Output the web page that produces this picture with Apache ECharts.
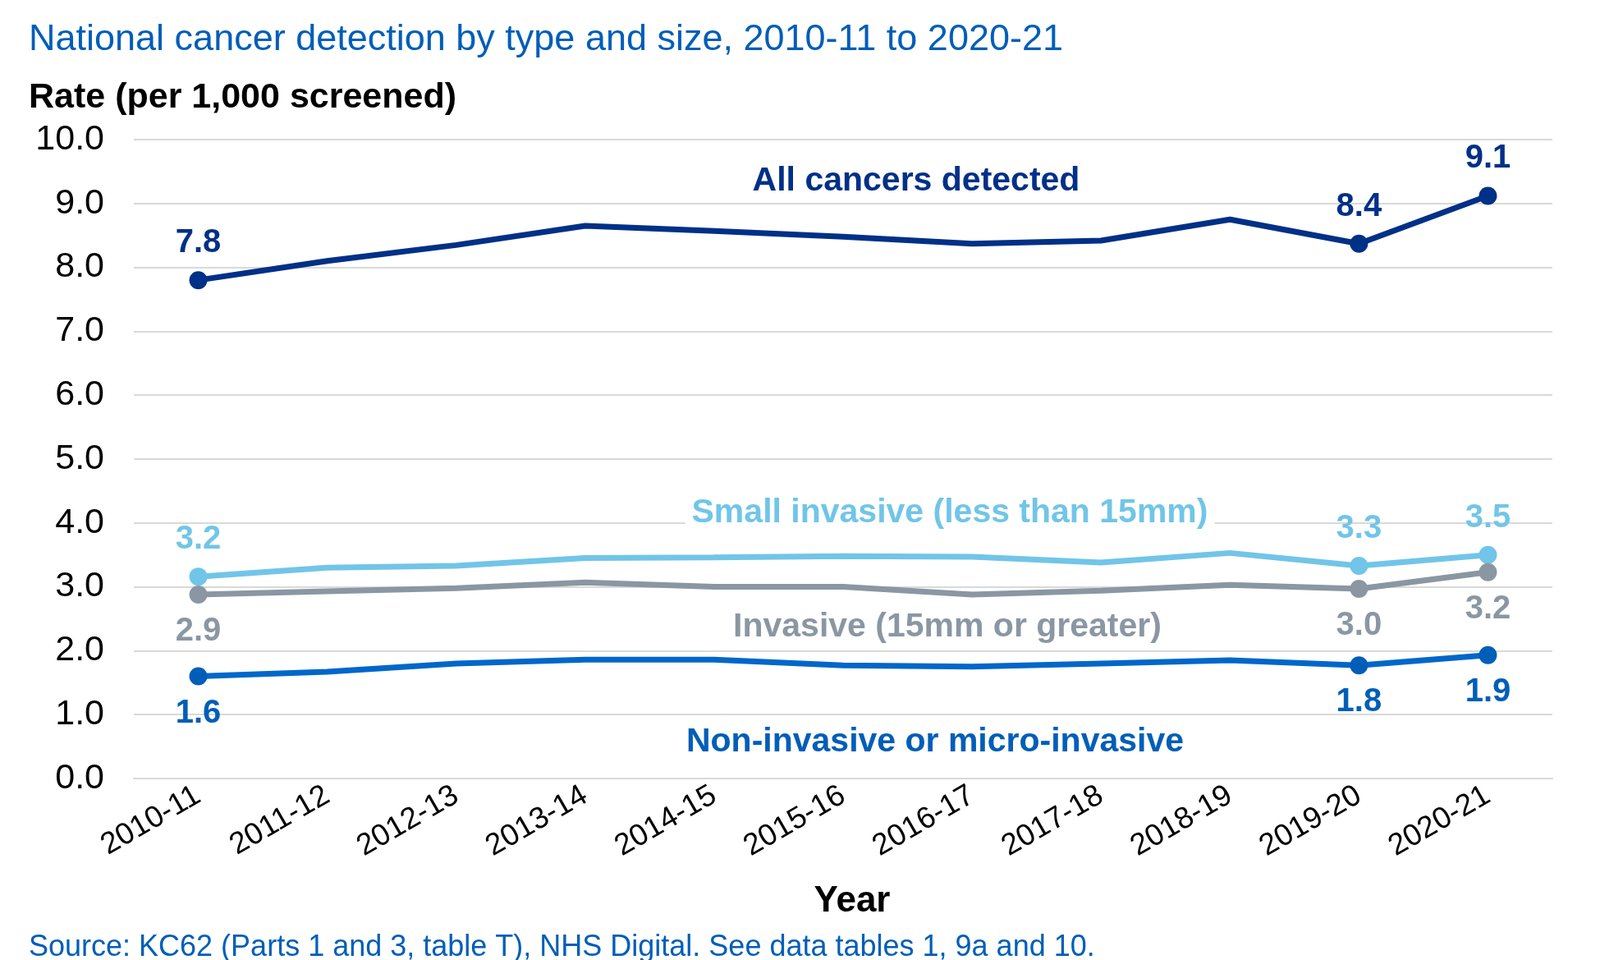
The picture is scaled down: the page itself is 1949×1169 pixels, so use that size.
<!DOCTYPE html>
<html><head><meta charset="utf-8">
<script src="https://cdn.jsdelivr.net/npm/echarts@6/dist/echarts.min.js"></script>
<style>html,body{margin:0;background:#fff}#c{width:1949px;height:1169px}</style>
</head><body><div id="c"></div>
<script>
const categories = ['2010-11','2011-12','2012-13','2013-14','2014-15','2015-16','2016-17','2017-18','2018-19','2019-20','2020-21'];
const allCancers = [7.8,8.1,8.35,8.65,8.57,8.48,8.37,8.42,8.75,8.37,9.12];
const smallInvasive = [3.16,3.3,3.33,3.45,3.46,3.48,3.47,3.38,3.53,3.33,3.5];
const invasive = [2.88,2.93,2.98,3.07,3.0,3.0,2.88,2.94,3.03,2.97,3.23];
const nonInvasive = [1.6,1.67,1.8,1.86,1.86,1.77,1.75,1.8,1.85,1.77,1.93];
const yTicks = ['0.0','1.0','2.0','3.0','4.0','5.0','6.0','7.0','8.0','9.0','10.0'];
const marked = [0,9,10];
const F = 'Liberation Sans, Arial, sans-serif';

function mk(name, vals, color, pos){
  return {
    name, type:'line', lineStyle:{width:7,color}, itemStyle:{color},
    symbol:'circle', symbolSize:(v,p)=>marked.includes(p.dataIndex)?22:0,
    data: vals.map((v,i)=>marked.includes(i)?{value:v,label:{show:true}}:v),
    label:{show:false,position:pos,distance:14,color,fontFamily:F,fontSize:40,fontWeight:'bold',
      formatter:p=>p.value.toFixed(1)},
    z: 3
  };
}
const chart = echarts.init(document.getElementById('c'));
chart.setOption({
  animation:false,
  grid:{left:163,right:58,top:170,bottom:221},
  xAxis:{type:'category',data:categories,boundaryGap:true,
    axisLine:{lineStyle:{color:'#d9d9d9',width:2}},axisTick:{show:false},
    axisLabel:{rotate:30,color:'#000',fontFamily:F,fontSize:37,margin:18,interval:0}},
  yAxis:{type:'value',min:0,max:10,interval:1,
    axisLabel:{color:'#000',fontFamily:F,fontSize:43,formatter:v=>yTicks[Math.round(v)],margin:36},
    splitLine:{lineStyle:{color:'#d9d9d9',width:2}},axisLine:{show:false}},
  series:[
    mk('All',allCancers,'#003087','top'),
    mk('Small',smallInvasive,'#71C5E8','top'),
    mk('Invasive',invasive,'#8A97A3','bottom'),
    mk('Non',nonInvasive,'#005EB8','bottom')
  ],
  graphic:[
    {type:'text',left:35,top:26,style:{text:'National cancer detection by type and size, 2010-11 to 2020-21',fill:'#005EB8',font:'45px '+F}},
    {type:'text',left:35,top:98,style:{text:'Rate (per 1,000 screened)',fill:'#000',font:'bold 43px '+F}},
    {type:'text',x:1038,y:1098,style:{text:'Year',fill:'#000',font:'bold 44px '+F,align:'center',verticalAlign:'middle'}},
    {type:'text',left:35,top:1136,style:{text:'Source: KC62 (Parts 1 and 3, table T), NHS Digital. See data tables 1, 9a and 10.',fill:'#005EB8',font:'36px '+F}},
    {type:'text',x:1116,y:221,z:10,style:{text:'All cancers detected',fill:'#003087',font:'bold 41px '+F,align:'center',verticalAlign:'middle',backgroundColor:'#fff',padding:[2,8]}},
    {type:'text',x:1157,y:625,z:10,style:{text:'Small invasive (less than 15mm)',fill:'#71C5E8',font:'bold 41px '+F,align:'center',verticalAlign:'middle',backgroundColor:'#fff',padding:[2,8]}},
    {type:'text',x:1154,y:764,z:10,style:{text:'Invasive (15mm or greater)',fill:'#8A97A3',font:'bold 41px '+F,align:'center',verticalAlign:'middle',backgroundColor:'#fff',padding:[2,8]}},
    {type:'text',x:1139,y:904,z:10,style:{text:'Non-invasive or micro-invasive',fill:'#005EB8',font:'bold 41px '+F,align:'center',verticalAlign:'middle',backgroundColor:'#fff',padding:[2,40]}}
  ]
});
</script></body></html>
